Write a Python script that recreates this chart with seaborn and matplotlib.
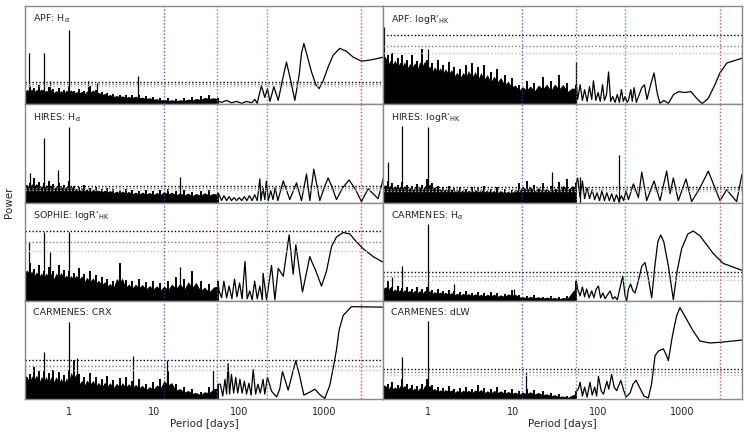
import matplotlib
matplotlib.use("Agg")
import matplotlib.pyplot as plt
from matplotlib.ticker import NullFormatter, LogLocator
import numpy as np
import seaborn as sns

# shared period grid of the dense short-period part (days)
noise_p = [0.30, 0.32, 0.34, 0.36, 0.38, 0.41, 0.44, 0.47, 0.50, 0.53,
           0.57, 0.61, 0.65, 0.70, 0.75, 0.80, 0.86, 0.92, 0.98, 1.05,
           1.12, 1.2, 1.3, 1.4, 1.5, 1.6, 1.75, 1.9, 2.05, 2.2,
           2.4, 2.6, 2.8, 3.0, 3.3, 3.6, 3.9, 4.2, 4.6, 5.0,
           5.5, 6.0, 6.6, 7.2, 8.0, 8.8, 9.7, 10.7, 11.8, 13,
           14.5, 16, 18, 20, 22.5, 25, 28, 31, 35, 39, 44, 50, 56]

# signals marked in every panel
signal_p = [12.9, 55, 212, 2750]
signal_c = ["#3030ff", "#b040b0", "#2a9a2a", "#ff2020"]

# ---- APF: H-alpha
apf_ha_noise = [0.16, 0.10, 0.19, 0.11, 0.17, 0.09, 0.20, 0.12, 0.15, 0.10,
                0.18, 0.11, 0.16, 0.09, 0.17, 0.10, 0.15, 0.09, 0.19, 0.11,
                0.14, 0.09, 0.16, 0.10, 0.14, 0.08, 0.19, 0.10, 0.15, 0.09,
                0.13, 0.08, 0.12, 0.07, 0.11, 0.06, 0.10, 0.07, 0.09, 0.05,
                0.10, 0.06, 0.09, 0.05, 0.08, 0.05, 0.07, 0.04, 0.06, 0.03,
                0.06, 0.03, 0.05, 0.03, 0.06, 0.03, 0.07, 0.03, 0.08, 0.04, 0.09, 0.05, 0.06]
apf_ha_spike_p = [0.335, 0.5, 0.59, 1.0, 1.64, 2.1, 6.5]
apf_ha_spike_h = [0.52, 0.52, 0.24, 0.76, 0.24, 0.22, 0.29]
apf_ha_curve_p = [54, 62, 71, 81, 93, 107, 122, 140, 153, 163, 172, 183, 200, 215, 230,
                  256, 288, 323, 360, 402, 452, 508, 541, 577, 620, 710, 798, 873, 973,
                  1114, 1276, 1528, 1830, 2200, 2750, 3450, 5000]
apf_ha_curve_h = [0.04, 0.02, 0.04, 0.015, 0.03, 0.01, 0.03, 0.015, 0.05, 0.01, 0.10, 0.19,
                  0.07, 0.16, 0.03, 0.18, 0.04, 0.25, 0.43, 0.25, 0.04, 0.30, 0.52, 0.62,
                  0.52, 0.33, 0.20, 0.16, 0.24, 0.38, 0.50, 0.57, 0.54, 0.48, 0.44, 0.45, 0.48]
apf_ha_fap = [0.232, 0.205, 0.19]

# ---- APF: logR'HK
apf_rhk_noise = [0.55, 0.38, 0.50, 0.33, 0.52, 0.36, 0.47, 0.32, 0.50, 0.35,
                 0.45, 0.30, 0.50, 0.33, 0.44, 0.30, 0.56, 0.32, 0.45, 0.30,
                 0.42, 0.28, 0.45, 0.27, 0.40, 0.26, 0.43, 0.25, 0.38, 0.24,
                 0.36, 0.22, 0.40, 0.21, 0.42, 0.20, 0.38, 0.19, 0.40, 0.18,
                 0.33, 0.17, 0.36, 0.16, 0.30, 0.14, 0.27, 0.12, 0.20, 0.10,
                 0.24, 0.10, 0.22, 0.09, 0.28, 0.10, 0.24, 0.08, 0.30, 0.09, 0.22, 0.08, 0.20]
apf_rhk_spike_p = [0.307, 1.0, 55.6]
apf_rhk_spike_h = [0.785, 0.56, 0.43]
apf_rhk_curve_p = [56, 58, 62, 66, 70, 75, 80, 85, 89, 95, 101, 107, 114, 120, 127, 134,
                   142, 150, 160, 170, 180, 190, 200, 210, 222, 230, 245, 255, 268, 285,
                   330, 355, 380, 420, 460, 500, 540, 600, 680, 780, 900, 1050, 1250,
                   1500, 1700, 2000, 2400, 2750, 3300, 5000]
apf_rhk_curve_h = [0.20, 0.05, 0.20, 0.04, 0.15, 0.03, 0.18, 0.05, 0.24, 0.04, 0.12, 0.03,
                   0.20, 0.04, 0.10, 0.33, 0.03, 0.08, 0.02, 0.10, 0.02, 0.15, 0.03, 0.08,
                   0.02, 0.04, 0.15, 0.03, 0.17, 0.02, 0.17, 0.20, 0.05, 0.20, 0.32, 0.12,
                   0.01, 0.04, 0.01, 0.10, 0.13, 0.12, 0.13, 0.05, 0.007, 0.06, 0.20, 0.32,
                   0.42, 0.47]
apf_rhk_fap = [0.706, 0.597, 0.52]

# ---- HIRES: H-alpha
hires_ha_noise = [0.22, 0.12, 0.20, 0.13, 0.25, 0.12, 0.21, 0.11, 0.20, 0.12,
                  0.22, 0.12, 0.19, 0.11, 0.20, 0.12, 0.18, 0.10, 0.22, 0.12,
                  0.17, 0.10, 0.16, 0.10, 0.18, 0.09, 0.15, 0.10, 0.16, 0.09,
                  0.14, 0.09, 0.15, 0.08, 0.14, 0.08, 0.13, 0.08, 0.14, 0.07,
                  0.13, 0.07, 0.12, 0.07, 0.13, 0.06, 0.12, 0.06, 0.13, 0.06,
                  0.14, 0.06, 0.12, 0.05, 0.13, 0.05, 0.11, 0.05, 0.12, 0.05, 0.13, 0.05, 0.10]
hires_ha_spike_p = [0.344, 0.5, 0.74, 1.0, 20]
hires_ha_spike_h = [0.30, 0.66, 0.33, 0.77, 0.26]
hires_ha_curve_p = [56, 58, 62, 66, 71, 76, 81, 87, 93, 100, 107, 115, 123, 132, 142, 152,
                    163, 175, 180, 190, 200, 209, 220, 235, 250, 265, 285, 330, 394, 473,
                    541, 620, 678, 755, 889, 1000, 1114, 1250, 1397, 1650, 1967, 2350,
                    2750, 3296, 4318, 5000]
hires_ha_curve_h = [0.10, 0.08, 0.02, 0.07, 0.02, 0.06, 0.02, 0.05, 0.02, 0.05, 0.02, 0.06,
                    0.02, 0.07, 0.02, 0.08, 0.02, 0.24, 0.02, 0.15, 0.03, 0.22, 0.02, 0.12,
                    0.03, 0.15, 0.02, 0.22, 0.03, 0.20, 0.02, 0.29, 0.02, 0.34, 0.02, 0.15,
                    0.25, 0.15, 0.03, 0.15, 0.23, 0.13, 0.01, 0.14, 0.04, 0.25]
hires_ha_fap = [0.164, 0.147, 0.126]

# ---- HIRES: logR'HK
hires_rhk_noise = [0.20, 0.12, 0.22, 0.11, 0.20, 0.13, 0.18, 0.11, 0.21, 0.12,
                   0.18, 0.11, 0.17, 0.10, 0.19, 0.11, 0.18, 0.10, 0.24, 0.13,
                   0.20, 0.11, 0.17, 0.10, 0.16, 0.09, 0.17, 0.10, 0.15, 0.09,
                   0.16, 0.09, 0.14, 0.08, 0.16, 0.09, 0.15, 0.08, 0.17, 0.08,
                   0.14, 0.08, 0.16, 0.07, 0.14, 0.08, 0.13, 0.07, 0.20, 0.08,
                   0.22, 0.09, 0.18, 0.08, 0.20, 0.07, 0.17, 0.07, 0.21, 0.08, 0.24, 0.07, 0.20]
hires_rhk_spike_p = [0.335, 0.5, 1.0, 29, 62, 178]
hires_rhk_spike_h = [0.41, 0.78, 0.77, 0.31, 0.26, 0.48]
hires_rhk_curve_p = [56, 58, 62, 66, 70, 75, 80, 86, 92, 98, 105, 112, 120, 128, 137, 146,
                     156, 166, 178, 190, 202, 215, 230, 263, 301, 330, 377, 460, 541, 648,
                     710, 777, 889, 1094, 1276, 1600, 2004, 2400, 2750, 3296, 4318, 5000]
hires_rhk_curve_h = [0.20, 0.25, 0.05, 0.22, 0.04, 0.15, 0.04, 0.13, 0.03, 0.10, 0.02, 0.12,
                     0.02, 0.10, 0.02, 0.09, 0.01, 0.08, 0.01, 0.07, 0.02, 0.12, 0.03, 0.19,
                     0.05, 0.31, 0.02, 0.22, 0.02, 0.32, 0.09, 0.25, 0.02, 0.24, 0.01, 0.15,
                     0.32, 0.15, 0.02, 0.13, 0.01, 0.29]
hires_rhk_fap = [0.154, 0.137, 0.12]

# ---- SOPHIE: logR'HK
sophie_rhk_noise = [0.35, 0.20, 0.38, 0.22, 0.32, 0.20, 0.36, 0.19, 0.30, 0.21,
                    0.34, 0.19, 0.30, 0.18, 0.36, 0.20, 0.31, 0.18, 0.30, 0.19,
                    0.28, 0.17, 0.33, 0.16, 0.27, 0.15, 0.30, 0.14, 0.26, 0.13,
                    0.24, 0.12, 0.22, 0.11, 0.20, 0.10, 0.38, 0.10, 0.21, 0.10,
                    0.20, 0.09, 0.22, 0.09, 0.19, 0.08, 0.20, 0.08, 0.18, 0.07,
                    0.20, 0.07, 0.24, 0.07, 0.22, 0.06, 0.30, 0.06, 0.20, 0.05, 0.17, 0.05, 0.20]
sophie_rhk_spike_p = [0.335, 0.5, 0.59, 1.0, 20]
sophie_rhk_spike_h = [0.60, 0.70, 0.50, 0.70, 0.34]
sophie_rhk_curve_p = [56, 58, 62, 66, 71, 76, 82, 88, 94, 101, 108, 117, 124, 133, 142, 152,
                      163, 175, 187, 191, 210, 240, 263, 288, 330, 387, 432, 464, 556, 678,
                      729, 777, 930, 1065, 1220, 1397, 1674, 2004, 2400, 2877, 3768, 5000]
sophie_rhk_curve_h = [0.20, 0.10, 0.03, 0.20, 0.03, 0.15, 0.02, 0.22, 0.04, 0.18, 0.02, 0.40,
                      0.02, 0.10, 0.01, 0.20, 0.02, 0.15, 0.01, 0.28, 0.01, 0.36, 0.01, 0.33,
                      0.25, 0.67, 0.27, 0.57, 0.09, 0.45, 0.38, 0.33, 0.15, 0.30, 0.55, 0.65,
                      0.695, 0.68, 0.60, 0.53, 0.45, 0.39]
sophie_rhk_fap = [0.712, 0.60, 0.51]

# ---- CARMENES: H-alpha
carm_ha_noise = [0.16, 0.07, 0.20, 0.08, 0.14, 0.07, 0.15, 0.06, 0.13, 0.07,
                 0.14, 0.06, 0.12, 0.06, 0.14, 0.05, 0.12, 0.06, 0.14, 0.06,
                 0.11, 0.05, 0.12, 0.05, 0.10, 0.05, 0.11, 0.04, 0.10, 0.04,
                 0.09, 0.04, 0.10, 0.04, 0.08, 0.04, 0.09, 0.03, 0.08, 0.03,
                 0.09, 0.03, 0.08, 0.03, 0.07, 0.03, 0.11, 0.03, 0.06, 0.02,
                 0.05, 0.02, 0.06, 0.02, 0.04, 0.02, 0.05, 0.01, 0.04, 0.01, 0.05, 0.02, 0.20]
carm_ha_spike_p = [0.38, 0.5, 1.0, 2.04, 10.2]
carm_ha_spike_h = [0.24, 0.35, 0.78, 0.17, 0.12]
carm_ha_curve_p = [56, 58, 62, 66, 70, 74, 79, 85, 90, 96, 102, 108, 115, 122, 130, 140,
                   150, 160, 170, 185, 197, 210, 219, 230, 244, 260, 275, 300, 330, 360,
                   390, 432, 470, 510, 551, 600, 680, 777, 860, 973, 1150, 1334, 1600,
                   2000, 2296, 3007, 5000]
carm_ha_curve_h = [0.20, 0.12, 0.05, 0.14, 0.04, 0.12, 0.03, 0.10, 0.03, 0.12, 0.15, 0.03,
                   0.08, 0.02, 0.06, 0.10, 0.02, 0.04, 0.01, 0.15, 0.25, 0.05, 0.0, 0.12,
                   0.17, 0.10, 0.08, 0.20, 0.35, 0.39, 0.25, 0.03, 0.35, 0.60, 0.67, 0.60,
                   0.35, 0.01, 0.30, 0.53, 0.68, 0.71, 0.66, 0.55, 0.48, 0.38, 0.31]
carm_ha_fap = [0.29, 0.25, 0.215]

# ---- CARMENES: CRX
carm_crx_noise = [0.30, 0.12, 0.25, 0.13, 0.33, 0.12, 0.28, 0.11, 0.30, 0.13,
                  0.26, 0.12, 0.30, 0.11, 0.27, 0.12, 0.24, 0.10, 0.30, 0.12,
                  0.40, 0.11, 0.25, 0.10, 0.22, 0.10, 0.26, 0.09, 0.22, 0.09,
                  0.20, 0.08, 0.23, 0.08, 0.19, 0.08, 0.21, 0.07, 0.22, 0.07,
                  0.18, 0.07, 0.20, 0.07, 0.15, 0.06, 0.17, 0.06, 0.20, 0.08,
                  0.28, 0.07, 0.15, 0.05, 0.12, 0.04, 0.10, 0.03, 0.07, 0.03, 0.12, 0.04, 0.15]
carm_crx_spike_p = [0.5, 1.0, 1.22, 5.66, 14, 49]
carm_crx_spike_h = [0.48, 0.78, 0.42, 0.44, 0.40, 0.30]
carm_crx_curve_p = [56, 60, 64, 68, 71, 74, 77, 81, 86, 91, 96, 102, 108, 115, 122, 130,
                    138, 146, 156, 166, 177, 191, 200, 215, 240, 275, 300, 323, 345, 377,
                    420, 464, 510, 577, 680, 777, 900, 1018, 1166, 1300, 1397, 1500, 1674,
                    2098, 5000]
carm_crx_curve_h = [0.15, 0.15, 0.03, 0.20, 0.05, 0.36, 0.05, 0.25, 0.06, 0.22, 0.06, 0.20,
                    0.06, 0.18, 0.05, 0.16, 0.04, 0.30, 0.05, 0.15, 0.06, 0.20, 0.05, 0.22,
                    0.08, 0.02, 0.10, 0.28, 0.20, 0.09, 0.25, 0.39, 0.25, 0.04, 0.07, 0.10,
                    0.04, 0.005, 0.14, 0.35, 0.50, 0.70, 0.85, 0.94, 0.935]
carm_crx_fap = [0.394, 0.333, 0.293]

# ---- CARMENES: dLW
carm_dlw_noise = [0.18, 0.07, 0.15, 0.08, 0.17, 0.06, 0.14, 0.07, 0.20, 0.07,
                  0.15, 0.07, 0.14, 0.06, 0.13, 0.06, 0.15, 0.07, 0.20, 0.08,
                  0.14, 0.06, 0.12, 0.05, 0.11, 0.05, 0.13, 0.05, 0.10, 0.05,
                  0.11, 0.04, 0.12, 0.05, 0.10, 0.04, 0.14, 0.04, 0.11, 0.04,
                  0.10, 0.04, 0.12, 0.04, 0.09, 0.04, 0.10, 0.03, 0.08, 0.03,
                  0.10, 0.03, 0.09, 0.03, 0.08, 0.02, 0.06, 0.02, 0.05, 0.01, 0.03, 0.01, 0.08]
carm_dlw_spike_p = [0.5, 1.0, 14.2]
carm_dlw_spike_h = [0.43, 0.79, 0.27]
carm_dlw_curve_p = [56, 59, 62, 66, 70, 75, 81, 86, 92, 97, 102, 110, 117, 128, 135, 146,
                    156, 167, 187, 200, 215, 240, 260, 282, 310, 350, 394, 430, 473, 520,
                    593, 640, 678, 760, 850, 930, 1050, 1334, 1600, 2098, 3000, 5000]
carm_dlw_curve_h = [0.08, 0.10, 0.17, 0.03, 0.12, 0.02, 0.17, 0.04, 0.12, 0.03, 0.23, 0.08,
                    0.05, 0.18, 0.10, 0.25, 0.12, 0.085, 0.19, 0.10, 0.02, 0.06, 0.15, 0.19,
                    0.12, 0.03, 0.01, 0.15, 0.44, 0.49, 0.51, 0.45, 0.39, 0.65, 0.85, 0.93,
                    0.85, 0.69, 0.59, 0.57, 0.58, 0.60]
carm_dlw_fap = [0.31, 0.27, 0.24]

labels = ["APF: H$_\\alpha$", "APF: logR$'_{\\rm HK}$",
          "HIRES: H$_\\alpha$", "HIRES: logR$'_{\\rm HK}$",
          "SOPHIE: logR$'_{\\rm HK}$", "CARMENES: H$_\\alpha$",
          "CARMENES: CRX", "CARMENES: dLW"]

panels = [
    (apf_ha_noise, apf_ha_spike_p, apf_ha_spike_h, apf_ha_curve_p, apf_ha_curve_h, apf_ha_fap),
    (apf_rhk_noise, apf_rhk_spike_p, apf_rhk_spike_h, apf_rhk_curve_p, apf_rhk_curve_h, apf_rhk_fap),
    (hires_ha_noise, hires_ha_spike_p, hires_ha_spike_h, hires_ha_curve_p, hires_ha_curve_h, hires_ha_fap),
    (hires_rhk_noise, hires_rhk_spike_p, hires_rhk_spike_h, hires_rhk_curve_p, hires_rhk_curve_h, hires_rhk_fap),
    (sophie_rhk_noise, sophie_rhk_spike_p, sophie_rhk_spike_h, sophie_rhk_curve_p, sophie_rhk_curve_h, sophie_rhk_fap),
    (carm_ha_noise, carm_ha_spike_p, carm_ha_spike_h, carm_ha_curve_p, carm_ha_curve_h, carm_ha_fap),
    (carm_crx_noise, carm_crx_spike_p, carm_crx_spike_h, carm_crx_curve_p, carm_crx_curve_h, carm_crx_fap),
    (carm_dlw_noise, carm_dlw_spike_p, carm_dlw_spike_h, carm_dlw_curve_p, carm_dlw_curve_h, carm_dlw_fap),
]

fap_colors = ["black", "#808080", "#c0c0c0"]
dot = (0, (1, 1.5))


def draw_panel(ax, label, noise, sp, sh, cp, ch, fap):
    h = np.asarray(noise)
    # solid body at the local mean level, thin hairs up to each value
    hp = np.pad(h, 1, mode="edge")
    body = (hp[:-2] + hp[1:-1] + hp[2:]) / 3.0
    ax.fill_between(noise_p, 0, body, color="black", lw=0)
    ax.vlines(noise_p, 0, h, color="black", lw=1.4)
    ax.vlines(sp, 0, sh, color="black", lw=0.9)
    sns.lineplot(x=cp, y=ch, ax=ax, color="black", lw=0.9,
                 sort=False, estimator=None)
    for v, c in zip(fap, fap_colors):
        ax.axhline(v, color=c, ls=dot, lw=1.0)
    for p, c in zip(signal_p, signal_c):
        ax.axvline(p, color=c, ls=dot, lw=1.0, alpha=0.85)
    ax.text(0.022, 0.93, label, transform=ax.transAxes, va="top", ha="left",
            fontsize=6.8)


sns.set_style("white")
plt.rcParams["font.family"] = ["DejaVu Sans"]
plt.rcParams["mathtext.fontset"] = "dejavusans"

fig, axes = plt.subplots(4, 2, figsize=(7.48, 4.37), dpi=100, sharex=True)
fig.subplots_adjust(left=0.0334, right=0.992, top=0.986, bottom=0.087,
                    wspace=0, hspace=0)

for i, ax in enumerate(axes.flat):
    draw_panel(ax, labels[i], *panels[i])
    ax.set_xscale("log")
    ax.set_xlim(0.3, 5000)
    ax.set_ylim(0, 1.0)
    ax.set_yticks([])
    ax.set_ylabel("")
    for s in ax.spines.values():
        s.set_color("#8a8a8a")
        s.set_linewidth(1.0)
    row = i // 2
    if row < 3:
        ax.tick_params(axis="x", which="both", bottom=False, labelbottom=False)
    else:
        ax.set_xticks([1, 10, 100, 1000])
        ax.set_xticklabels(["1", "10", "100", "1000"])
        ax.xaxis.set_minor_locator(LogLocator(base=10, subs=range(2, 10)))
        ax.xaxis.set_minor_formatter(NullFormatter())
        ax.tick_params(axis="x", which="major", direction="out", length=3.5,
                       width=0.8, color="black", labelsize=7, pad=2)
        ax.tick_params(axis="x", which="minor", direction="out", length=2,
                       width=0.6, color="black")
        ax.set_xlabel("Period [days]", fontsize=7.5, labelpad=2)

fig.text(0.012, 0.537, "Power", rotation=90, va="center", ha="center",
         fontsize=7.5)

fig.savefig("out.png", dpi=100)
